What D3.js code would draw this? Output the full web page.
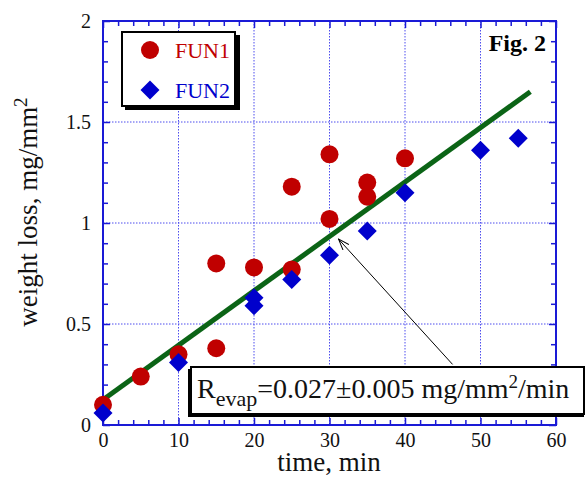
<!DOCTYPE html>
<html>
<head>
<meta charset="utf-8">
<script src="https://cdn.jsdelivr.net/npm/d3@7"></script>
<style>
  body { margin: 0; background: #fff; }
</style>
</head>
<body>
<div id="chart"></div>
<script>
// FUN1 (red circles)
const fun1Time = [0, 5, 10, 15, 15, 20, 25, 25, 30, 30, 35, 35, 40];
const fun1Loss = [0.10, 0.24, 0.35, 0.80, 0.38, 0.78, 0.77, 1.18, 1.34, 1.02, 1.20, 1.13, 1.32];
// FUN2 (blue diamonds)
const fun2Time = [0, 10, 20, 20, 25, 30, 35, 40, 50, 55];
const fun2Loss = [0.06, 0.31, 0.63, 0.59, 0.72, 0.84, 0.96, 1.15, 1.36, 1.42];
// fitted line end points
const fitTime = [0, 56.6];
const fitLoss = [0.125, 1.65];
// arrow: tail -> head, in data units
const arrowTime = [46.3, 31.2];
const arrowLoss = [0.30, 0.92];

const xTicks = [0, 10, 20, 30, 40, 50, 60];
const yTicks = [0, 0.5, 1, 1.5, 2];

const red = "#c00000", blue = "#0000cc", green = "#0b6416", axisBlue = "#1a1ad6";
const serif = "'Liberation Serif', 'DejaVu Serif', serif";

const W = 587, H = 477;
const margin = {top: 21, right: 31, bottom: 52, left: 103};
const width = W - margin.left - margin.right;
const height = H - margin.top - margin.bottom;

const svg = d3.select("#chart").append("svg")
    .attr("width", W).attr("height", H)
    .attr("font-family", serif);
const g = svg.append("g")
    .attr("transform", "translate(" + margin.left + "," + margin.top + ")");

const x = d3.scaleLinear().domain([0, 60]).range([0, width]);
const y = d3.scaleLinear().domain([0, 2]).range([height, 0]);

// grid
g.append("g").selectAll("line").data(xTicks.slice(1, -1)).enter().append("line")
    .attr("x1", d => x(d)).attr("x2", d => x(d)).attr("y1", 0).attr("y2", height)
    .attr("stroke", "#4d4dee").attr("stroke-width", 1).attr("stroke-dasharray", "1.5,1.5");
g.append("g").selectAll("line").data(yTicks.slice(1, -1)).enter().append("line")
    .attr("y1", d => y(d)).attr("y2", d => y(d)).attr("x1", 0).attr("x2", width)
    .attr("stroke", "#4d4dee").attr("stroke-width", 1).attr("stroke-dasharray", "1.5,1.5");

// axes with inward ticks on all four sides
function styleAxis(sel) {
  sel.attr("font-family", serif).attr("font-size", 20);
  sel.select(".domain").remove();
  sel.selectAll(".tick line").attr("stroke", axisBlue).attr("stroke-width", 1.5);
  sel.selectAll("text").attr("fill", "#111");
}
const xMinor = d3.range(0, 61, 2).filter(v => v % 10 !== 0);
const yMinor = d3.range(0, 2.01, 0.1).map(v => +v.toFixed(1)).filter(v => Math.abs(v * 2 - Math.round(v * 2)) > 1e-6);

g.append("g").attr("transform", "translate(0," + height + ")")
    .call(d3.axisBottom(x).tickValues(xTicks).tickSize(-7).tickPadding(8).tickFormat(d3.format("d")))
    .call(styleAxis);
g.append("g").attr("transform", "translate(0," + height + ")")
    .call(d3.axisBottom(x).tickValues(xMinor).tickSize(-5).tickFormat(""))
    .call(styleAxis);
g.append("g")
    .call(d3.axisTop(x).tickValues(xTicks).tickSize(-7).tickFormat(""))
    .call(styleAxis);
g.append("g")
    .call(d3.axisTop(x).tickValues(xMinor).tickSize(-5).tickFormat(""))
    .call(styleAxis);
g.append("g")
    .call(d3.axisLeft(y).tickValues(yTicks).tickSize(-7).tickPadding(12).tickFormat(d => d))
    .call(styleAxis);
g.append("g")
    .call(d3.axisLeft(y).tickValues(yMinor).tickSize(-5).tickFormat(""))
    .call(styleAxis);
g.append("g").attr("transform", "translate(" + width + ",0)")
    .call(d3.axisRight(y).tickValues(yTicks).tickSize(-7).tickFormat(""))
    .call(styleAxis);
g.append("g").attr("transform", "translate(" + width + ",0)")
    .call(d3.axisRight(y).tickValues(yMinor).tickSize(-5).tickFormat(""))
    .call(styleAxis);

g.append("rect").attr("width", width).attr("height", height)
    .attr("fill", "none").attr("stroke", axisBlue).attr("stroke-width", 2);

// fitted line
const fit = fitTime.map((t, i) => [t, fitLoss[i]]);
g.append("path").datum(fit)
    .attr("d", d3.line().x(d => x(d[0])).y(d => y(d[1])))
    .attr("stroke", green).attr("stroke-width", 5).attr("fill", "none");

// FUN1 points
g.append("g").selectAll("circle").data(fun1Time).enter().append("circle")
    .attr("cx", d => x(d))
    .attr("cy", (d, i) => y(fun1Loss[i]))
    .attr("r", 9)
    .attr("fill", red);

// FUN2 points
const diamond = d3.symbol().type(d3.symbolDiamond2).size(230);
g.append("g").selectAll("path").data(fun2Time).enter().append("path")
    .attr("d", diamond)
    .attr("transform", (d, i) => "translate(" + x(d) + "," + y(fun2Loss[i]) + ")")
    .attr("fill", blue);

// arrow
svg.append("defs").append("marker")
    .attr("id", "head").attr("viewBox", "0 0 12 10").attr("refX", 11).attr("refY", 5)
    .attr("markerWidth", 12).attr("markerHeight", 10).attr("markerUnits", "userSpaceOnUse")
    .attr("orient", "auto")
  .append("path").attr("d", "M0,1 L11,5 L0,9").attr("fill", "none").attr("stroke", "#000").attr("stroke-width", 1);
g.append("line")
    .attr("x1", x(arrowTime[0])).attr("y1", y(arrowLoss[0]))
    .attr("x2", x(arrowTime[1])).attr("y2", y(arrowLoss[1]))
    .attr("stroke", "#000").attr("stroke-width", 1).attr("marker-end", "url(#head)");

// annotation box
const ann = svg.append("g");
ann.append("rect").attr("x", 188).attr("y", 369).attr("width", 396).attr("height", 48).attr("fill", "#000");
ann.append("rect").attr("x", 191).attr("y", 367).attr("width", 393).attr("height", 47)
    .attr("fill", "#fff").attr("stroke", "#000").attr("stroke-width", 2);
const annText = ann.append("text").attr("x", 197).attr("y", 398)
    .attr("font-size", 28).attr("fill", "#111");
annText.append("tspan").text("R");
annText.append("tspan").attr("dy", 8).attr("font-size", 22).text("evap");
annText.append("tspan").attr("dy", -8).text("=0.027\u00b10.005 mg/mm");
annText.append("tspan").attr("dy", -10).attr("font-size", 19).text("2");
annText.append("tspan").attr("dy", 10).text("/min");

// legend
const leg = svg.append("g");
leg.append("rect").attr("x", 125).attr("y", 35).attr("width", 115).attr("height", 75).attr("fill", "#000");
leg.append("rect").attr("x", 122).attr("y", 32).attr("width", 113).attr("height", 74)
    .attr("fill", "#fff").attr("stroke", "#000").attr("stroke-width", 2);
leg.append("circle").attr("cx", 150).attr("cy", 50).attr("r", 9).attr("fill", red);
leg.append("path").attr("d", diamond).attr("transform", "translate(150,90)").attr("fill", blue);
leg.append("text").attr("x", 175).attr("y", 58).attr("font-size", 22).attr("fill", red).text("FUN1");
leg.append("text").attr("x", 175).attr("y", 98).attr("font-size", 22).attr("fill", blue).text("FUN2");

// Fig. 2
svg.append("text").attr("x", 546).attr("y", 51).attr("text-anchor", "end")
    .attr("font-size", 24).attr("font-weight", "bold").attr("fill", "#000").text("Fig. 2");

// axis titles
svg.append("text").attr("x", 329).attr("y", 471).attr("text-anchor", "middle")
    .attr("font-size", 27).attr("fill", "#111").text("time, min");
const yl = svg.append("text").attr("transform", "translate(37," + 212 + ") rotate(-90)")
    .attr("text-anchor", "middle").attr("font-size", 27).attr("fill", "#111");
yl.append("tspan").text("weight loss, mg/mm");
yl.append("tspan").attr("dy", -10).attr("font-size", 19).text("2");
</script>
</body>
</html>
